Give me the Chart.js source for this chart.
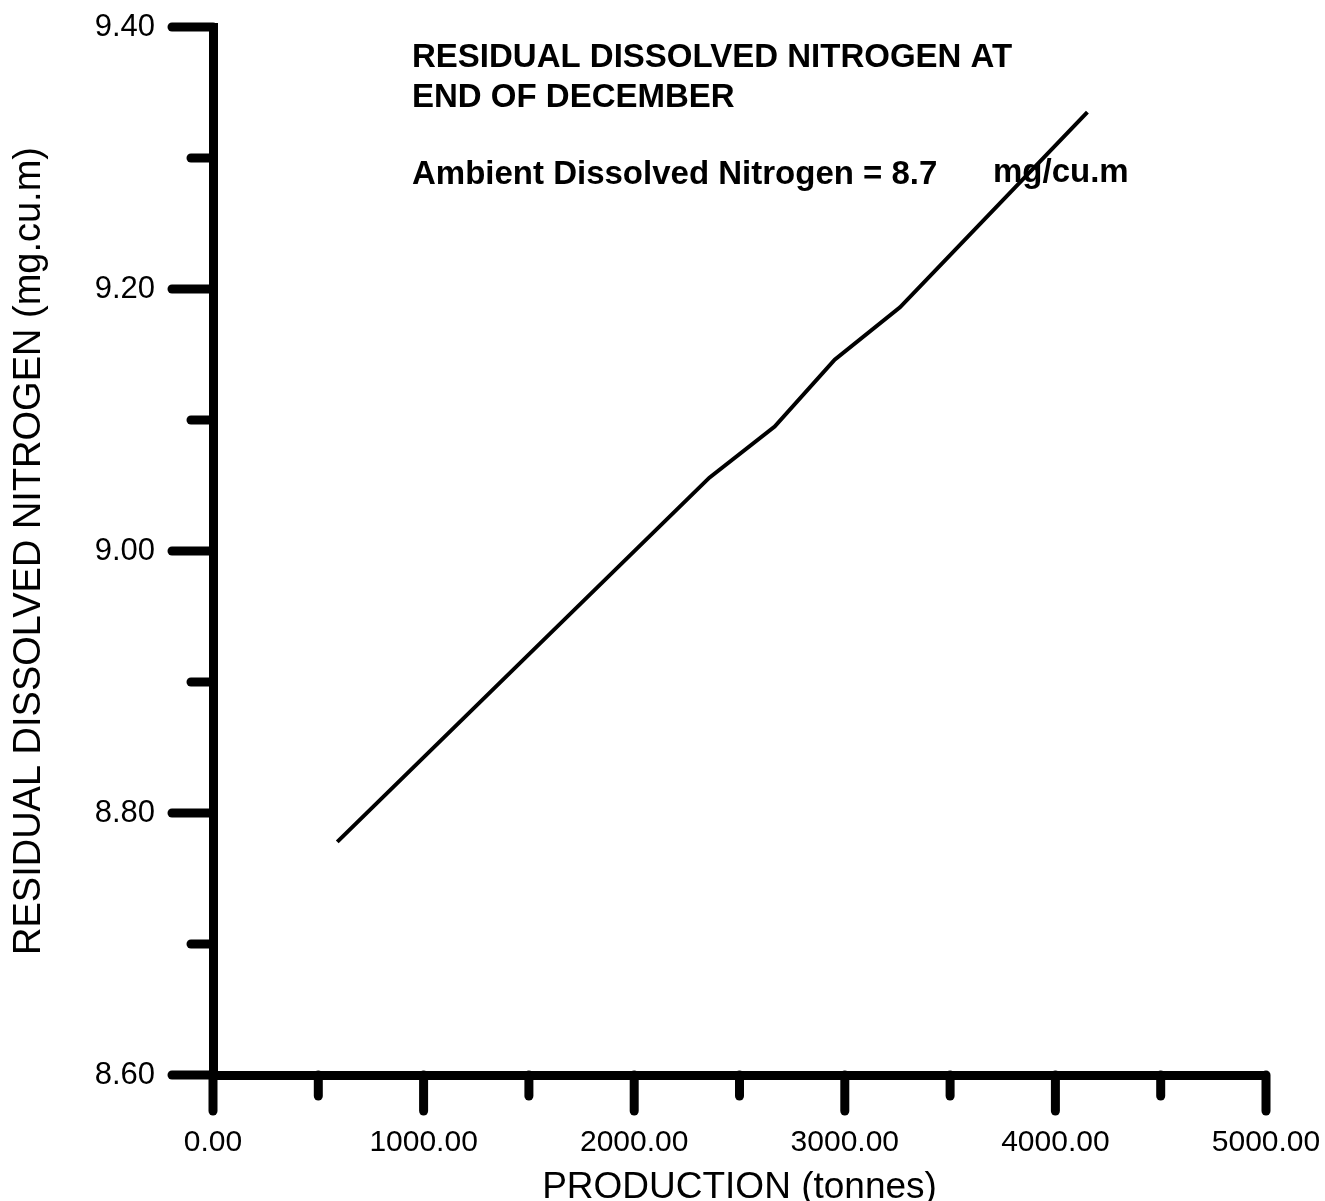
<!DOCTYPE html>
<html>
<head>
<meta charset="utf-8">
<script src="https://cdn.jsdelivr.net/npm/chart.js@4/dist/chart.umd.min.js"></script>
<style>
  html, body { margin: 0; padding: 0; background: #fff; }
  #wrap { width: 1325px; height: 1201px; }
</style>
</head>
<body>
<div id="wrap"><canvas id="chart-1"></canvas></div>
<script>
// production (tonnes) vs residual dissolved nitrogen (mg/cu.m)
const production = [590, 2357, 2667, 2952, 3262, 4152];
const nitrogen = [8.778, 9.056, 9.095, 9.146, 9.186, 9.335];

const xMin = 0, xMax = 5000, xStep = 500;
const yMin = 8.6, yMax = 9.4, yStep = 0.1;

const titleLines = ['RESIDUAL DISSOLVED NITROGEN AT', 'END OF DECEMBER'];
const ambientText = 'Ambient Dissolved Nitrogen = 8.7';
const unitText = 'mg/cu.m';

const canvas = document.querySelector('#chart-1');
const fontFam = '"Liberation Sans", Arial, Helvetica, sans-serif';

// tick marks: long on labelled values, short between
const tickMarks = {
    id: 'tickMarks',
    afterDraw(chart) {
        const ctx = chart.ctx;
        const area = chart.chartArea;
        const xs = chart.scales.x;
        const ys = chart.scales.y;
        ctx.save();
        ctx.strokeStyle = '#000';
        ctx.lineWidth = 9;
        ctx.lineCap = 'round';
        xs.ticks.forEach(t => {
            const px = xs.getPixelForValue(t.value);
            const len = (Math.round(t.value) % 1000 === 0) ? 36 : 21;
            ctx.beginPath();
            ctx.moveTo(px, area.bottom);
            ctx.lineTo(px, area.bottom + len);
            ctx.stroke();
        });
        ys.ticks.forEach(t => {
            const py = ys.getPixelForValue(t.value);
            const len = (Math.round(t.value * 10) % 2 === 0) ? 41 : 22;
            ctx.beginPath();
            ctx.moveTo(area.left, py);
            ctx.lineTo(area.left - len, py);
            ctx.stroke();
        });

        // note text inside the plot
        ctx.fillStyle = '#000';
        ctx.textBaseline = 'alphabetic';
        ctx.textAlign = 'left';
        ctx.font = 'bold 33px ' + fontFam;
        ctx.fillText(titleLines[0], area.left + 199, 67);
        ctx.fillText(titleLines[1], area.left + 199, 107);
        ctx.fillText(ambientText, area.left + 199, 184);
        ctx.fillText(unitText, area.left + 780, 182);
        ctx.restore();
    }
};

new Chart(canvas, {
    type: 'line',
    data: {
        datasets: [{
            label: 'Residual dissolved nitrogen',
            data: production.map((p, i) => ({ x: p, y: nitrogen[i] })),
            borderColor: '#000',
            borderWidth: 4,
            pointRadius: 0,
            tension: 0,
            fill: false
        }]
    },
    options: {
        responsive: true,
        maintainAspectRatio: false,
        animation: false,
        layout: { padding: { top: 27, right: 59, bottom: 0, left: 11 } },
        plugins: {
            legend: { display: false },
            tooltip: { enabled: false }
        },
        scales: {
            x: {
                type: 'linear',
                min: xMin,
                max: xMax,
                grid: { display: false, drawTicks: false },
                border: { display: true, color: '#000', width: 9 },
                ticks: {
                    stepSize: xStep,
                    autoSkip: false,
                    maxRotation: 0,
                    padding: 50,
                    color: '#000',
                    font: { family: fontFam, size: 30 },
                    callback: v => (Math.round(v) % 1000 === 0 ? Number(v).toFixed(2) : '')
                },
                title: {
                    display: true,
                    text: 'PRODUCTION (tonnes)',
                    color: '#000',
                    padding: 0,
                    font: { family: fontFam, size: 37, lineHeight: 0.7 }
                },
                afterFit(scale) {
                    scale.height = 126;
                    scale.paddingLeft = 0;
                    scale.paddingRight = 0;
                }
            },
            y: {
                type: 'linear',
                min: yMin,
                max: yMax,
                grid: { display: false, drawTicks: false },
                border: { display: true, color: '#000', width: 9 },
                ticks: {
                    stepSize: yStep,
                    autoSkip: false,
                    padding: 58,
                    color: '#000',
                    font: { family: fontFam, size: 31 },
                    callback: v => (Math.round(v * 10) % 2 === 0 ? Number(v).toFixed(2) : '')
                },
                title: {
                    display: true,
                    text: 'RESIDUAL DISSOLVED NITROGEN (mg.cu.m)',
                    color: '#000',
                    padding: 0,
                    font: { family: fontFam, size: 38, lineHeight: 1 }
                },
                afterFit(scale) {
                    scale.width = 202;
                    scale.paddingTop = 0;
                    scale.paddingBottom = 0;
                }
            }
        }
    },
    plugins: [tickMarks]
});
</script>
</body>
</html>
